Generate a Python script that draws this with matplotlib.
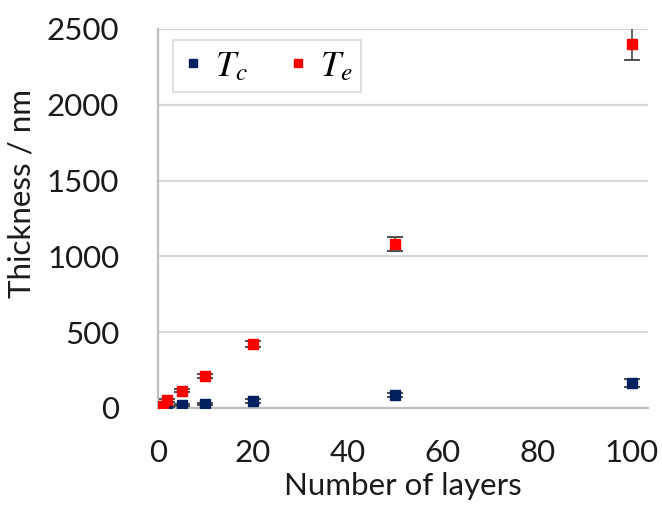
import matplotlib
matplotlib.use('Agg')
from matplotlib import pyplot as plt

plt.rcParams['font.family'] = ['Lato', 'DejaVu Sans']
plt.rcParams['mathtext.fontset'] = 'stix'

# layers and measured thicknesses (nm)
layers = [1, 2, 5, 10, 20, 50, 100]
t_c = [5, 10, 20, 28, 46, 86, 165]
t_c_err = [5, 6, 8, 8, 10, 15, 25]
t_e = [12, 50, 115, 210, 422, 1082, 2400]
t_e_err = [8, 10, 12, 15, 20, 45, 105]

x_ticks = [0, 20, 40, 60, 80, 100]
y_ticks = [0, 500, 1000, 1500, 2000, 2500]

fig = plt.figure(figsize=(6.62, 5.08), dpi=100)
ax = fig.add_axes([0.2387, 0.1969, 0.979 - 0.2387, 0.943 - 0.1969])

ax.errorbar(layers, t_c, yerr=t_c_err, fmt='s', color='#002060', markersize=6.5,
            ecolor='#4d4d4d', elinewidth=1.2, capsize=6, capthick=1.4,
            label='$T_c$', zorder=3)
ax.errorbar(layers, t_e, yerr=t_e_err, fmt='s', color='#FF0000', markersize=6.5,
            ecolor='#4d4d4d', elinewidth=1.2, capsize=6, capthick=1.4,
            label='$T_e$', zorder=3)

ax.set_xlim(0, 103.4)
ax.set_ylim(0, 2500)
ax.set_xticks(x_ticks)
ax.set_yticks(y_ticks)
ax.tick_params(axis='x', length=0, labelsize=22.5, colors='#1a1a1a', pad=22)
ax.tick_params(axis='y', length=0, labelsize=22.5, colors='#1a1a1a', pad=28)
ax.grid(axis='y', color='#D9D9D9', linewidth=1.6, zorder=0)
ax.set_axisbelow(True)
for side in ['top', 'right']:
    ax.spines[side].set_visible(False)
for side in ['left', 'bottom']:
    ax.spines[side].set_color('#BFBFBF')
    ax.spines[side].set_linewidth(1.6)

ax.set_xlabel('Number of layers', fontsize=22.5, color='#1a1a1a', labelpad=4)
ax.set_ylabel('Thickness / nm', fontsize=22.5, color='#1a1a1a')
ax.yaxis.set_label_coords(-0.25, 0.565)

handles, labels = ax.get_legend_handles_labels()
handles = [h[0] for h in handles]
leg = ax.legend(handles, labels, loc='upper left', bbox_to_anchor=(0.031, 0.971),
                ncol=2, fontsize=26, frameon=True, fancybox=False,
                edgecolor='#D9D9D9', framealpha=1, handlelength=0.6,
                handletextpad=0.3, columnspacing=1.1, markerscale=0.8,
                borderpad=0.25, borderaxespad=0)
leg.get_frame().set_linewidth(1.2)

fig.savefig('out.png', dpi=100)
